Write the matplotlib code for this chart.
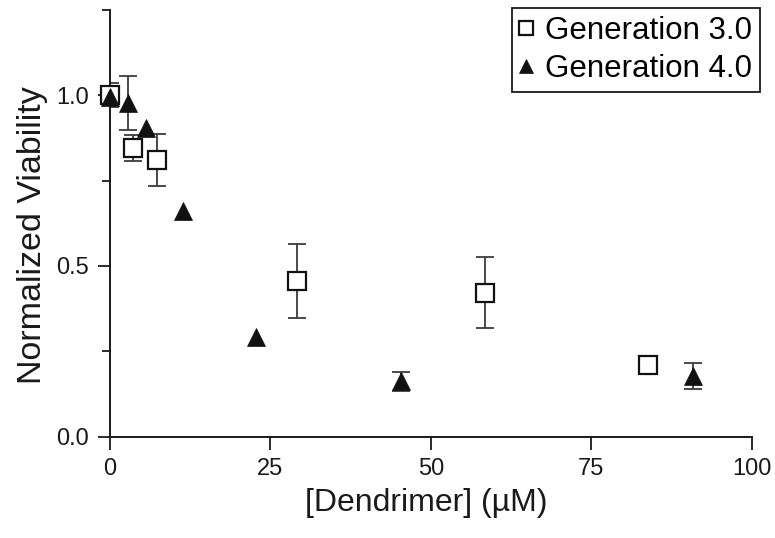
import numpy as np
import matplotlib
matplotlib.use('Agg')
import matplotlib.pyplot as plt
from matplotlib.ticker import MultipleLocator

plt.rcParams['font.family'] = ['Liberation Sans', 'DejaVu Sans']

# generation 3.0 (quadrados abertos)
g3_conc = [0.0, 3.6, 7.3, 29.2, 58.4, 83.8]
g3_viab = [1.0, 0.845, 0.81, 0.456, 0.422, 0.211]
g3_err = [0.035, 0.038, 0.075, 0.108, 0.103, 0.0]

# generation 4.0 (triangulos cheios)
g4_conc = [0.0, 2.84, 5.68, 11.3, 22.7, 45.4, 90.9]
g4_viab = [0.995, 0.977, 0.904, 0.66, 0.292, 0.162, 0.178]
g4_err = [0.0, 0.078, 0.0, 0.0, 0.0, 0.029, 0.038]

labels = ['Generation 3.0', 'Generation 4.0']

fig = plt.figure(figsize=(7.75, 5.38), dpi=100)
ax = fig.add_axes([0.142, 0.188, 0.828, 0.794])

bar_color = '#3c3c3c'
for conc, viab, err in [(g3_conc, g3_viab, g3_err), (g4_conc, g4_viab, g4_err)]:
    # so desenha barras onde ha erro
    conc, viab, err = np.array(conc), np.array(viab), np.array(err)
    m = err > 0
    ax.errorbar(conc[m], viab[m], yerr=err[m], fmt='none', ecolor=bar_color,
                elinewidth=1.3, capsize=6.5, capthick=1.3, zorder=2)

h3, = ax.plot(g3_conc, g3_viab, 's', ms=12.5, mfc='white', mec='#111111',
              mew=1.6, zorder=3, clip_on=False)
h4, = ax.plot(g4_conc, g4_viab, '^', ms=12.5, mfc='#111111', mec='#111111',
              mew=0.5, zorder=4, clip_on=False)

ax.set_xlim(0, 100)
ax.set_ylim(0, 1.25)
ax.set_xticks([0, 25, 50, 75, 100])
ax.set_yticks([0.0, 0.5, 1.0])
ax.yaxis.set_minor_locator(MultipleLocator(0.25))
ax.set_yticklabels(['0.0', '0.5', '1.0'])

for s in ['top', 'right']:
    ax.spines[s].set_visible(False)
for s in ['left', 'bottom']:
    ax.spines[s].set_linewidth(1.4)
    ax.spines[s].set_color('#1a1a1a')

ax.tick_params(which='major', direction='out', length=9, width=1.3,
               color='#1a1a1a', labelsize=17, pad=6, labelcolor='#1a1a1a')
ax.tick_params(which='minor', direction='out', length=6, width=1.3,
               color='#1a1a1a')

ax.set_xlabel('[Dendrimer] (µM)', fontsize=23, color='#1a1a1a')
ax.set_ylabel('Normalized Viability', fontsize=24.5, color='#1a1a1a')
ax.xaxis.set_label_coords(0.493, -0.119)
ax.yaxis.set_label_coords(-0.096, 0.473)

leg = ax.legend([h3, h4], labels, loc='upper right',
                bbox_to_anchor=(760 / 775, 1 - 8 / 538),
                bbox_transform=fig.transFigure, borderaxespad=0,
                fontsize=22.5, markerscale=0.8, handlelength=0.35,
                handletextpad=0.45, labelspacing=0.27, borderpad=0.25,
                fancybox=False, framealpha=1)
leg.get_frame().set_edgecolor('#1a1a1a')
leg.get_frame().set_linewidth(1.3)

fig.savefig('out.png', dpi=100)
